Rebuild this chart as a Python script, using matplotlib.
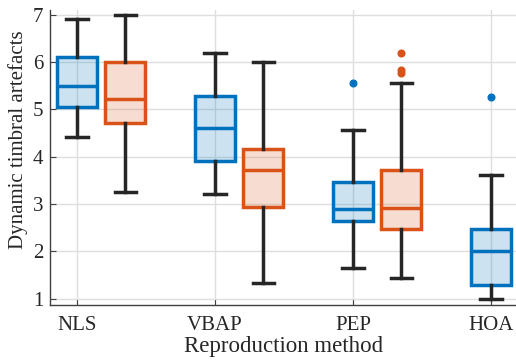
import matplotlib
matplotlib.use("Agg")
import matplotlib.pyplot as plt

methods = ["NLS", "VBAP", "PEP", "HOA"]

# series A (blue) five-number summaries + outliers
blue_whislo = [4.42, 3.22, 1.65, 1.00]
blue_q1     = [5.05, 3.91, 2.65, 1.29]
blue_med    = [5.50, 4.61, 2.90, 2.01]
blue_q3     = [6.11, 5.29, 3.47, 2.48]
blue_whishi = [6.92, 6.20, 4.57, 3.62]
blue_fliers = [[], [], [5.56], [5.27]]

# series B (orange), no HOA
orange_whislo = [3.26, 1.33, 1.44]
orange_q1     = [4.72, 2.94, 2.47]
orange_med    = [5.22, 3.72, 2.92]
orange_q3     = [6.00, 4.17, 3.72]
orange_whishi = [7.00, 6.00, 5.56]
orange_fliers = [[], [], [6.20, 5.84, 5.78]]

plt.rcParams['font.family'] = ['Liberation Serif', 'DejaVu Serif']

BLUE = "#0072BD"
ORANGE = "#D95319"
DARK = "#262626"

fig = plt.figure(figsize=(5.16, 3.60), dpi=100)
ax = fig.add_axes([50/516, 1-305/360, 1-50/516, (305-10)/360])

def stats(wl, q1, med, q3, wh, fl):
    return [dict(whislo=a, q1=b, med=c, q3=d, whishi=e, fliers=f)
            for a, b, c, d, e, f in zip(wl, q1, med, q3, wh, fl)]

def draw(st, pos, color):
    ax.bxp(st, positions=pos, widths=0.29, patch_artist=True, showfliers=True,
           boxprops=dict(facecolor=color, edgecolor=color, linewidth=2.5),
           medianprops=dict(color=color, linewidth=2.5),
           whiskerprops=dict(color=DARK, linewidth=2.5),
           capprops=dict(color=DARK, linewidth=2.5),
           capwidths=0.155,
           flierprops=dict(marker='o', markersize=4.8, markerfacecolor=color,
                           markeredgecolor=color, linestyle='none'),
           zorder=3)

pos = list(range(1, len(methods) + 1))
sb = stats(blue_whislo, blue_q1, blue_med, blue_q3, blue_whishi, blue_fliers)
so = stats(orange_whislo, orange_q1, orange_med, orange_q3, orange_whishi, orange_fliers)

draw(sb, pos, BLUE)
draw(so, [p + 0.35 for p in pos[:len(so)]], ORANGE)

# fill transparency
for p in ax.patches:
    fc = p.get_facecolor()
    p.set_facecolor((fc[0], fc[1], fc[2], 0.2))

ax.set_xticks(pos)
ax.set_xticklabels(methods)
ax.set_xlim(0.805, 4.18)
ax.set_ylim(0.87, 7.1)
ax.set_yticks([1, 2, 3, 4, 5, 6, 7])
ax.grid(True, color="#dedede", linewidth=1.0, zorder=0)
ax.set_axisbelow(True)
for s in ["top", "right"]:
    ax.spines[s].set_visible(False)
for s in ["left", "bottom"]:
    ax.spines[s].set_color("#404040")
    ax.spines[s].set_linewidth(1.0)
ax.tick_params(direction='in', length=4, colors="#404040", labelcolor=DARK, labelsize=15)
ax.tick_params(axis='x', pad=8)
ax.tick_params(axis='y', pad=5)
ax.set_xlabel("Reproduction method", fontsize=16.5, color=DARK)
ax.set_ylabel("Dynamic timbral artefacts", fontsize=15, color=DARK)
# place labels in axes coords
ax.xaxis.set_label_coords((284 - 50) / 466, (305 - 336) / 295)
ax.yaxis.set_label_coords((28 - 50) / 466, (305 - 140) / 295)

fig.savefig("out.png", dpi=100)
